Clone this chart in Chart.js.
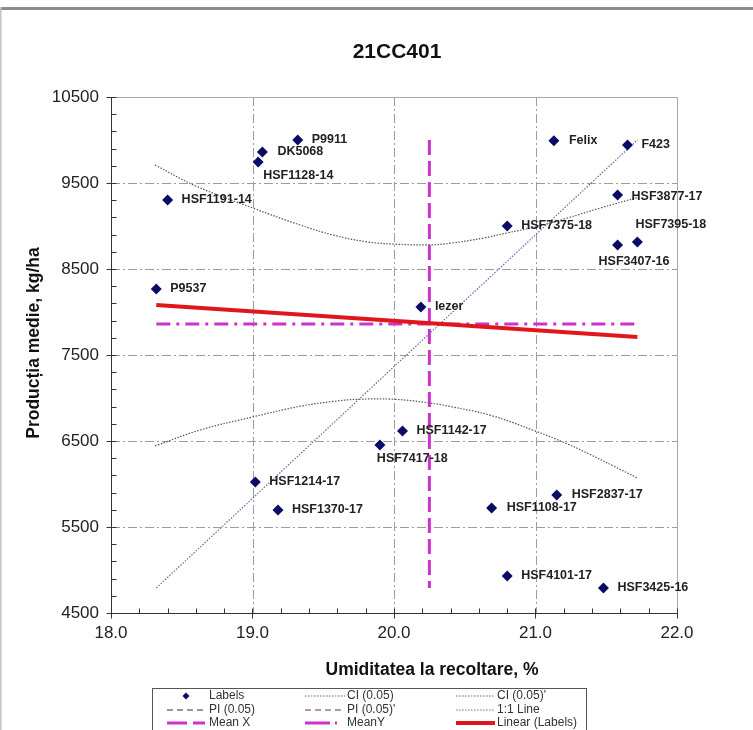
<!DOCTYPE html>
<html><head><meta charset="utf-8">
<script src="https://cdn.jsdelivr.net/npm/chart.js@4.4.0/dist/chart.umd.min.js"></script>
<style>html,body{margin:0;padding:0;background:#fff;}canvas{display:block}</style>
</head><body>
<canvas id="c" width="753" height="730"></canvas>
<script>
// ---------- DATA ----------
const chartTitle = "21CC401";
const xAxisTitle = "Umiditatea la recoltare, %";
const yAxisTitle = "Producția medie, kg/ha";
const hybridNames = ["P9911","DK5068","HSF1128-14","HSF1191-14","P9537","Felix","F423","HSF3877-17","HSF7375-18","HSF7395-18","HSF3407-16","Iezer","HSF1142-17","HSF7417-18","HSF1214-17","HSF1370-17","HSF2837-17","HSF1108-17","HSF4101-17","HSF3425-16"];
const moistureValues = [19.32,19.07,19.04,18.40,18.32,21.13,21.65,21.58,20.80,21.72,21.58,20.19,20.06,19.90,19.02,19.18,21.15,20.69,20.80,21.48];
const yieldValues = [10000,9860,9744,9302,8267,9990,9942,9360,9000,8814,8779,8058,6616,6453,6023,5698,5872,5721,4930,4791];
const xTickValues = [18,19,20,21,22];
const yTickValues = [4500,5500,6500,7500,8500,9500,10500];
const ciUpperX = [18.31,18.6,19.0,19.34,19.57,19.81,20.0,20.24,20.4,20.63,20.8,21.0,21.22,21.46,21.72];
const ciUpperY = [9710,9465,9210,9010,8895,8815,8790,8780,8800,8860,8920,8990,9090,9210,9330];
const ciLowerX = [18.31,18.63,19.0,19.34,19.57,19.74,20.0,20.24,20.4,20.68,21.0,21.22,21.39,21.55,21.72];
const ciLowerY = [6442,6628,6779,6905,6960,6985,6985,6945,6900,6800,6615,6470,6340,6210,6070];
const oneToOneX = [18.32,21.72];
const oneToOneY = [4791,10000];
const meanXLineX = [20.25,20.25];
const meanXLineY = [10000,4791];
const meanYLineX = [18.32,21.72];
const meanYLineY = [7860,7860];
const linearX = [18.32,21.72];
const linearY = [8080,7710];
const legendNames = ["Labels","CI (0.05)","CI (0.05)'","PI (0.05)","PI (0.05)'","1:1 Line","Mean X","MeanY","Linear (Labels)"];

// ---------- STYLE ----------
const FONT = '"Liberation Sans", Arial, sans-serif';
const labelOffsets = {"HSF1128-14":[5,14],"HSF7395-18":[-2,-17],"HSF3407-16":[-19,17],"HSF7417-18":[-3,14],"HSF3877-17":[14,2],"DK5068":[15,0],"Felix":[15,0],"HSF2837-17":[15,0],"HSF1108-17":[15,0]};
const legendStyles = {
  "Labels":{type:'marker'},
  "CI (0.05)":{color:'#666',width:1,dash:[1.5,1.5]},
  "CI (0.05)'":{color:'#666',width:1,dash:[1.5,1.5]},
  "PI (0.05)":{color:'#777',width:1.5,dash:[6,4]},
  "PI (0.05)'":{color:'#a07a7a',width:1.5,dash:[6,4]},
  "1:1 Line":{color:'#6677aa',width:1,dash:[1.5,1.5]},
  "Mean X":{color:'#cc33cc',width:3,dash:[20,6]},
  "MeanY":{color:'#cc33cc',width:3,dash:[25,5,2,30]},
  "Linear (Labels)":{color:'#e0161b',width:4,dash:[]}
};
function pairs(xs, ys){ return xs.map((x,i)=>({x:x, y:ys[i]})); }

const gridPlugin = {
  id:'gridPlugin',
  beforeDatasetsDraw(chart){
    const {ctx, chartArea:a, scales:{x,y}} = chart;
    ctx.save();
    const line=(x1,y1,x2,y2)=>{ctx.beginPath();ctx.moveTo(x1,y1);ctx.lineTo(x2,y2);ctx.stroke();};
    ctx.strokeStyle='#9c9c9c'; ctx.lineWidth=1; ctx.setLineDash([9,3,2,3]);
    xTickValues.forEach(v=>{ if(v===x.min||v===x.max) return; const p=Math.round(x.getPixelForValue(v))+0.5; line(p,a.top,p,a.bottom); });
    yTickValues.forEach(v=>{ if(v===y.min||v===y.max) return; const p=Math.round(y.getPixelForValue(v))+0.5; line(a.left,p,a.right,p); });
    ctx.setLineDash([]);
    ctx.strokeStyle='#a8a8a8';
    const T=Math.round(a.top)+0.5, R=Math.round(a.right)+0.5, L=Math.round(a.left)+0.5, B=Math.round(a.bottom)+0.5;
    line(L,T,R,T); line(R,T,R,B);
    ctx.strokeStyle='#333';
    line(L,T,L,B); line(L,B,R,B);
    for(let v=y.min; v<=y.max+1e-6; v+=200){ const p=Math.round(y.getPixelForValue(v))+0.5; const major=yTickValues.includes(Math.round(v)); line(major?L-5:L, p, L+5, p); }
    for(let v=x.min; v<=x.max+1e-6; v+=0.2){ const p=Math.round(x.getPixelForValue(v))+0.5; const major=xTickValues.some(t=>Math.abs(t-v)<1e-6); line(p, B-5, p, major?B+5:B); }
    ctx.restore();
  }
};

const labelPlugin = {
  id:'labelPlugin',
  afterDatasetsDraw(chart){
    const ctx=chart.ctx; const meta=chart.getDatasetMeta(0);
    ctx.save();
    ctx.font='bold 12.5px '+FONT; ctx.fillStyle='#222'; ctx.textAlign='left'; ctx.textBaseline='middle';
    meta.data.forEach((pt,i)=>{ const n=hybridNames[i]; const o=labelOffsets[n]||[14,0]; ctx.fillText(n, pt.x+o[0], pt.y+o[1]); });
    ctx.restore();
  }
};

const decorPlugin = {
  id:'decorPlugin',
  afterDraw(chart){
    const {ctx} = chart;
    ctx.save();
    ctx.fillStyle='#8c8c8c'; ctx.fillRect(0,7,753,3);
    ctx.fillStyle='#c4c4c4'; ctx.fillRect(0,7,1.5,730);
    ctx.fillStyle='#111'; ctx.textAlign='center'; ctx.textBaseline='middle';
    ctx.font='bold 21px '+FONT; ctx.fillText(chartTitle, 397, 52);
    ctx.font='bold 17.5px '+FONT; ctx.fillText(xAxisTitle, 432, 670);
    ctx.save(); ctx.translate(34, 343); ctx.rotate(-Math.PI/2); ctx.fillText(yAxisTitle, 0, 0); ctx.restore();
    ctx.strokeStyle='#555'; ctx.lineWidth=1; ctx.setLineDash([]);
    ctx.strokeRect(152.5, 688.5, 434, 60);
    const colSym=[[167,205],[305,345],[456,495]]; const colText=[209,347,497]; const rowY=[696,710,723];
    ctx.font='12px '+FONT; ctx.textAlign='left';
    legendNames.forEach((n,i)=>{
      const r=Math.floor(i/3), c=i%3, yy=rowY[r], st=legendStyles[n];
      if(st.type==='marker'){
        const cx=(colSym[c][0]+colSym[c][1])/2; ctx.fillStyle='#0b0b66';
        ctx.beginPath(); ctx.moveTo(cx,yy-3.5); ctx.lineTo(cx+3.5,yy); ctx.lineTo(cx,yy+3.5); ctx.lineTo(cx-3.5,yy); ctx.closePath(); ctx.fill();
      } else {
        ctx.strokeStyle=st.color; ctx.lineWidth=st.width; ctx.setLineDash(st.dash);
        ctx.beginPath(); ctx.moveTo(colSym[c][0],yy); ctx.lineTo(colSym[c][1],yy); ctx.stroke(); ctx.setLineDash([]);
      }
      ctx.fillStyle='#333'; ctx.fillText(n, colText[c], yy);
    });
    ctx.restore();
  }
};

new Chart(document.getElementById('c'), {
  type:'scatter',
  data:{ datasets:[
    {label:legendNames[0], data:pairs(moistureValues, yieldValues), pointStyle:'rectRot', pointRadius:5.5, pointHoverRadius:5.5, backgroundColor:'#0b0b66', borderColor:'#0b0b66', borderWidth:0, showLine:false},
    {label:legendNames[8], data:pairs(linearX, linearY), showLine:true, borderColor:'#e0161b', borderWidth:4, pointRadius:0, fill:false},
    {label:legendNames[7], data:pairs(meanYLineX, meanYLineY), showLine:true, borderColor:'#cc33cc', borderWidth:3, borderDash:[14,6,3,6], pointRadius:0},
    {label:legendNames[6], data:pairs(meanXLineX, meanXLineY), showLine:true, borderColor:'#cc33cc', borderWidth:3, borderDash:[15,6], pointRadius:0},
    {label:legendNames[5], data:pairs(oneToOneX, oneToOneY), showLine:true, borderColor:'#5d6ea8', borderWidth:1.2, borderDash:[1.5,1.5], pointRadius:0},
    {label:legendNames[1], data:pairs(ciUpperX, ciUpperY), showLine:true, borderColor:'#555', borderWidth:1.2, borderDash:[1.5,1.5], pointRadius:0, tension:0.4},
    {label:legendNames[2], data:pairs(ciLowerX, ciLowerY), showLine:true, borderColor:'#555', borderWidth:1.2, borderDash:[1.5,1.5], pointRadius:0, tension:0.4}
  ]},
  options:{
    responsive:false, animation:false, devicePixelRatio:1,
    layout:{padding:{top:97,right:76,left:0,bottom:0}},
    plugins:{legend:{display:false}, tooltip:{enabled:false}, title:{display:false}},
    scales:{
      x:{type:'linear', min:18, max:22,
        afterBuildTicks:s=>{ s.ticks=xTickValues.map(v=>({value:v})); },
        afterFit:s=>{ s.height=117; },
        ticks:{font:{family:FONT,size:17}, color:'#222', padding:10, maxRotation:0, autoSkip:false, callback:v=>Number(v).toFixed(1)},
        grid:{display:false, drawTicks:false}, border:{display:false}},
      y:{type:'linear', min:4500, max:10500,
        afterBuildTicks:s=>{ s.ticks=yTickValues.map(v=>({value:v})); },
        afterFit:s=>{ s.width=111; },
        ticks:{font:{family:FONT,size:17}, color:'#222', padding:12, autoSkip:false, callback:v=>String(v)},
        grid:{display:false, drawTicks:false}, border:{display:false}}
    }
  },
  plugins:[gridPlugin, labelPlugin, decorPlugin]
});
</script>
</body></html>
